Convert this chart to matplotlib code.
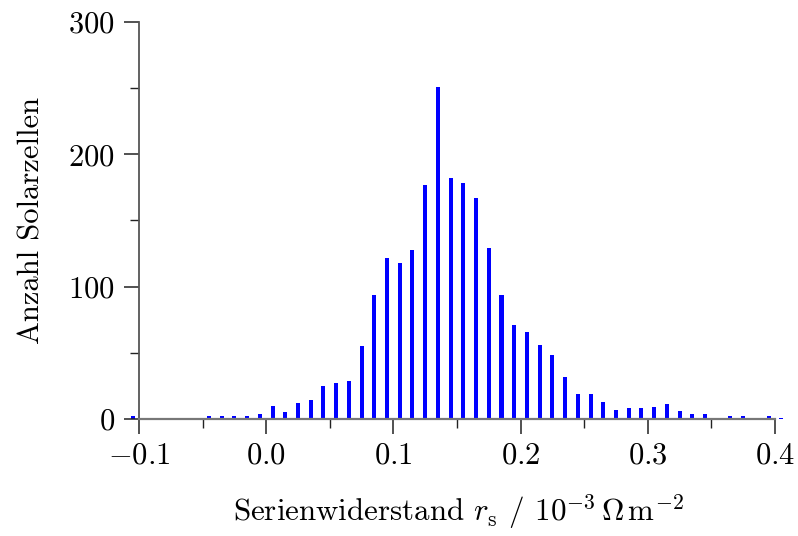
import matplotlib
matplotlib.use("Agg")
import matplotlib.pyplot as plt
import numpy as np

plt.rcParams['font.family'] = 'serif'
plt.rcParams['font.serif'] = ['cmr10', 'DejaVu Serif']
plt.rcParams['mathtext.fontset'] = 'cm'
plt.rcParams['axes.unicode_minus'] = True

# Bin centres (10^-3 Ohm m^-2) and counts
bin_centers = [-0.105, -0.095, -0.085, -0.075, -0.065, -0.055, -0.045, -0.035,
               -0.025, -0.015, -0.005, 0.005, 0.015, 0.025, 0.035, 0.045,
               0.055, 0.065, 0.075, 0.085, 0.095, 0.105, 0.115, 0.125,
               0.135, 0.145, 0.155, 0.165, 0.175, 0.185, 0.195, 0.205,
               0.215, 0.225, 0.235, 0.245, 0.255, 0.265, 0.275, 0.285,
               0.295, 0.305, 0.315, 0.325, 0.335, 0.345, 0.355, 0.365,
               0.375, 0.385, 0.395, 0.405]
counts = [2, 0, 1, 0, 0, 1, 2, 2,
          2, 2, 4, 10, 5, 12, 14, 25,
          27, 29, 55, 94, 122, 118, 128, 177,
          251, 182, 178, 167, 129, 94, 71, 66,
          56, 48, 32, 19, 19, 13, 7, 8,
          8, 9, 11, 6, 4, 4, 1, 2,
          2, 0, 2, 1]

xticks = [-0.1, 0.0, 0.1, 0.2, 0.3, 0.4]
xticklabels = ['$-0.1$', '$0.0$', '$0.1$', '$0.2$', '$0.3$', '$0.4$']
xminor = [-0.05, 0.05, 0.15, 0.25, 0.35]
yticks = [0, 100, 200, 300]
yticklabels = ['$0$', '$100$', '$200$', '$300$']
yminor = [50, 150, 250]

fig = plt.figure(figsize=(7.98, 5.36), dpi=100)
ax = fig.add_axes([0.1614, 0.2183, 0.8257, 0.7407])

ax.bar(bin_centers, counts, width=0.0032, color='#0000ff', linewidth=0, clip_on=False, zorder=1)

ax.set_xlim(-0.108, 0.41)
ax.set_ylim(0, 300)

for s in ['top', 'right']:
    ax.spines[s].set_visible(False)
ax.spines['left'].set_position(('data', -0.1))
ax.spines['left'].set_bounds(0, 300)
ax.spines['bottom'].set_bounds(-0.1, 0.4)
ax.spines['left'].set_color('#555555')
ax.spines['bottom'].set_color('#777777')
ax.spines['left'].set_linewidth(1.3)
ax.spines['bottom'].set_linewidth(1.6)
ax.spines['bottom'].set_zorder(3)

ax.set_xticks(xticks)
ax.set_xticklabels(xticklabels)
ax.set_xticks(xminor, minor=True)
ax.set_yticks(yticks)
ax.set_yticklabels(yticklabels)
ax.set_yticks(yminor, minor=True)

ax.tick_params(axis='both', which='major', direction='out', length=10.5, width=1.1,
               color='#222222', labelsize=22)
ax.tick_params(axis='both', which='minor', direction='out', length=6.5, width=1.0,
               color='#222222')
ax.tick_params(axis='x', which='major', pad=6)
ax.tick_params(axis='y', which='major', pad=7)

ax.set_xlabel(r'Serienwiderstand $r_\mathrm{s}$ / $10^{-3}\,\Omega\,\mathrm{m}^{-2}$',
              fontsize=22.3, labelpad=17)
ax.set_ylabel('Anzahl Solarzellen', fontsize=22, labelpad=16)

fig.savefig('out.png', dpi=100)
